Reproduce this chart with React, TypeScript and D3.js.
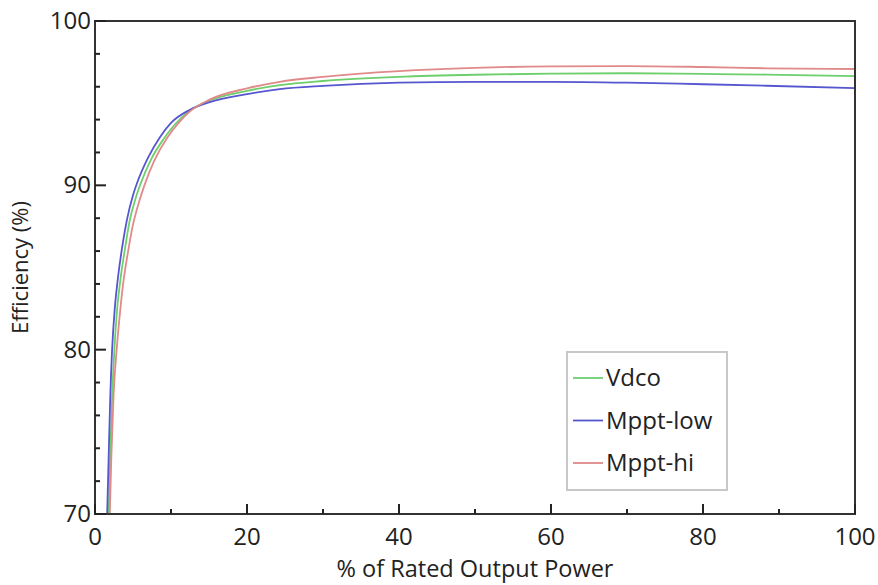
import React from "react";
import * as d3 from "d3";

// % of rated output power -> efficiency (%)
const vdcoX = [1.8, 2.0, 2.25, 2.55, 2.9, 3.3, 4.0, 4.5, 5.4, 6.0, 7.4, 9.0, 10.5, 12.5, 15, 20, 24.3, 30, 40, 50, 60, 70, 80, 88.4, 100];
const vdcoY = [70, 73.5, 77, 80, 82.4, 84.1, 86.3, 87.7, 89.3, 90.1, 91.6, 92.8, 93.7, 94.55, 95.15, 95.75, 96.1, 96.35, 96.6, 96.73, 96.8, 96.82, 96.78, 96.74, 96.65];

const lowX = [1.6, 1.8, 2.0, 2.25, 2.6, 3.0, 3.7, 4.2, 5.0, 5.5, 7.0, 8.5, 10, 12.5, 15, 20, 24.3, 30, 40, 50, 60, 70, 80, 88.4, 100];
const lowY = [70, 73.5, 77, 80, 82.5, 84.3, 86.6, 87.9, 89.4, 90.1, 91.7, 92.9, 93.8, 94.6, 95.05, 95.55, 95.85, 96.05, 96.25, 96.3, 96.3, 96.25, 96.15, 96.06, 95.92];

const hiX = [1.95, 2.15, 2.45, 2.85, 3.3, 3.7, 4.4, 4.9, 5.8, 6.5, 7.8, 9.5, 11, 12.5, 15, 20, 24.3, 30, 40, 50, 60, 70, 80, 88.4, 100];
const hiY = [70, 73.5, 77.3, 80, 82.3, 84, 86.1, 87.4, 89, 90, 91.5, 92.9, 93.8, 94.5, 95.2, 95.9, 96.3, 96.6, 96.95, 97.15, 97.24, 97.26, 97.2, 97.12, 97.08];

const seriesNames = ["Vdco", "Mppt-low", "Mppt-hi"];
const seriesColors = ["#6ccf6c", "#5656d0", "#e08a8a"];
const xTicks = [0, 20, 40, 60, 80, 100];
const yTicks = [70, 80, 90, 100];

const M = { left: 95, right: 23, top: 21, bottom: 71 };
const W = 878;
const H = 585;
const FONT = "'Open Sans', sans-serif";

export default function App() {
  const x = d3.scaleLinear().domain([0, 100]).range([M.left, W - M.right]);
  const y = d3.scaleLinear().domain([70, 100]).range([H - M.bottom, M.top]);

  const series = [
    { xs: vdcoX, ys: vdcoY },
    { xs: lowX, ys: lowY },
    { xs: hiX, ys: hiY },
  ];

  const line = d3
    .line<[number, number]>()
    .x(d => x(d[0]))
    .y(d => y(d[1]))
    .curve(d3.curveMonotoneX);

  const xMinor = d3.range(10, 100, 20);
  const yMinor = d3.range(70, 100, 2).filter(v => v % 10 !== 0);

  const x0 = x(0), x1 = x(100), y0 = y(70), y1 = y(100);
  const legX = 567, legY = 352;

  return (
    <svg width={W} height={H} style={{ position: "absolute", left: 0, top: 0, background: "#fff" }}>
      <defs>
        <clipPath id="plot">
          <rect x={x0} y={y1} width={x1 - x0} height={y0 - y1} />
        </clipPath>
      </defs>

      <g clipPath="url(#plot)">
        {series.map((s, i) => (
          <path
            key={i}
            d={line(s.xs.map((v, j) => [v, s.ys[j]] as [number, number])) || ""}
            fill="none"
            stroke={seriesColors[i]}
            strokeWidth={1.8}
          />
        ))}
      </g>

      {/* frame */}
      <rect x={x0} y={y1} width={x1 - x0} height={y0 - y1} fill="none" stroke="#333" strokeWidth={2} />

      {/* x ticks */}
      {xTicks.map(t => (
        <g key={"x" + t}>
          <line x1={x(t)} x2={x(t)} y1={y0} y2={y0 - 10} stroke="#222" strokeWidth={2} />
          <text x={x(t)} y={y0 + 31} textAnchor="middle" fontFamily={FONT} fontSize={24} fill="#222">{t}</text>
        </g>
      ))}
      {xMinor.map(t => (
        <line key={"xm" + t} x1={x(t)} x2={x(t)} y1={y0} y2={y0 - 5} stroke="#222" strokeWidth={2} />
      ))}

      {/* y ticks */}
      {yTicks.map(t => (
        <g key={"y" + t}>
          <line x1={x0} x2={x0 + 11} y1={y(t)} y2={y(t)} stroke="#222" strokeWidth={2} />
          <text x={x0 - 4} y={y(t) + 8} textAnchor="end" fontFamily={FONT} fontSize={24} fill="#222">{t}</text>
        </g>
      ))}
      {yMinor.map(t => (
        <line key={"ym" + t} x1={x0} x2={x0 + 5} y1={y(t)} y2={y(t)} stroke="#222" strokeWidth={2} />
      ))}

      {/* axis titles */}
      <text x={(x0 + x1) / 2} y={577} textAnchor="middle" fontFamily={FONT} fontSize={23.5} fill="#222">
        % of Rated Output Power
      </text>
      <text
        transform={`translate(28, ${(y0 + y1) / 2}) rotate(-90)`}
        textAnchor="middle"
        fontFamily={FONT}
        fontSize={22}
        fill="#222"
      >
        Efficiency (%)
      </text>

      {/* legend */}
      <rect x={legX} y={legY} width={160} height={138} fill="#fff" stroke="#c8c8c8" strokeWidth={2} />
      {seriesNames.map((n, i) => {
        const cy = legY + 26 + i * 42.5;
        return (
          <g key={n}>
            <line x1={legX + 6} x2={legX + 36} y1={cy} y2={cy} stroke={seriesColors[i]} strokeWidth={1.8} />
            <text x={legX + 39} y={cy + 8} fontFamily={FONT} fontSize={24} fill="#222">{n}</text>
          </g>
        );
      })}
    </svg>
  );
}
